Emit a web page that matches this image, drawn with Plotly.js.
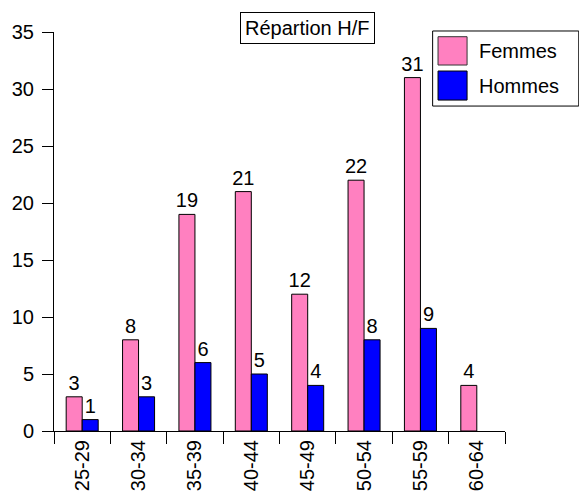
<!DOCTYPE html>
<html>
<head>
<meta charset="utf-8">
<script src="https://cdn.plot.ly/plotly-3.0.1.min.js"></script>
<style>html,body{margin:0;padding:0;background:#fff}</style>
</head>
<body>
<div id="chart" style="width:579px;height:502px"></div>
<script>
const categories = ["25-29","30-34","35-39","40-44","45-49","50-54","55-59","60-64"];
const femmes = [3, 8, 19, 21, 12, 22, 31, 4];
const hommes = [1, 3, 6, 5, 4, 8, 9, null];
const seriesNames = ["Femmes", "Hommes"];
const seriesColors = ["#FF80C0", "#0000FF"];
const chartTitle = "Répartion H/F";

const W = 579, H = 502;
const M = {l: 54, r: 74.4, t: 32, b: 71.3};
const plotW = W - M.l - M.r, plotH = H - M.t - M.b;
const px = x => (x - M.l) / plotW;
const py = y => (H - M.b - y) / plotH;
const FONT = "Liberation Sans, Arial, sans-serif";

function barTrace(name, vals, color) {
  return {
    type: "bar", name: name, x: categories, y: vals,
    marker: {color: color, line: {color: "#000", width: 1}},
    text: vals.map(v => v == null ? "" : String(v)),
    textposition: "outside", constraintext: "none", cliponaxis: false,
    textfont: {family: FONT, size: 20, color: "#000"},
    hoverinfo: "x+y", showlegend: false
  };
}

const data = [
  barTrace(seriesNames[0], femmes, seriesColors[0]),
  barTrace(seriesNames[1], hommes, seriesColors[1])
];

const shapes = [
  {type: "rect", xref: "paper", yref: "paper", x0: px(432.3), x1: px(578.3), y0: py(106), y1: py(31),
   line: {color: "#000", width: 1}, fillcolor: "#fff"},
  {type: "rect", xref: "paper", yref: "paper", x0: px(437.7), x1: px(466.7), y0: py(65), y1: py(36.7),
   line: {color: "#333", width: 1}, fillcolor: seriesColors[0]},
  {type: "rect", xref: "paper", yref: "paper", x0: px(437.7), x1: px(466.7), y0: py(100), y1: py(71),
   line: {color: "#000", width: 1}, fillcolor: seriesColors[1]}
];

const annotations = [
  {text: chartTitle, xref: "paper", yref: "paper", x: px(307.7), y: py(27.7),
   xanchor: "center", yanchor: "middle", showarrow: false,
   bordercolor: "#000", borderwidth: 1, borderpad: 4, bgcolor: "#fff",
   font: {family: FONT, size: 20, color: "#000"}},
  {text: seriesNames[0], xref: "paper", yref: "paper", x: px(477), y: py(51),
   xanchor: "left", yanchor: "middle", showarrow: false,
   font: {family: FONT, size: 20, color: "#000"}},
  {text: seriesNames[1], xref: "paper", yref: "paper", x: px(477), y: py(85.5),
   xanchor: "left", yanchor: "middle", showarrow: false,
   font: {family: FONT, size: 20, color: "#000"}}
];

const layout = {
  width: W, height: H,
  margin: M,
  paper_bgcolor: "#fff", plot_bgcolor: "#fff",
  font: {family: FONT, size: 20, color: "#000"},
  barmode: "group", bargap: 0.432, bargroupgap: 0,
  showlegend: false,
  xaxis: {
    type: "category", range: [-0.5, 7.5], fixedrange: true,
    showline: true, linecolor: "#000", linewidth: 1,
    ticks: "outside", tickson: "boundaries", ticklen: 12, tickcolor: "#000", tickwidth: 1,
    tickangle: -90, showgrid: false, zeroline: false,
    tickfont: {family: FONT, size: 20, color: "#000"}
  },
  yaxis: {
    range: [0, 35], dtick: 5, tick0: 0, fixedrange: true,
    showline: true, linecolor: "#000", linewidth: 1,
    ticks: "outside", ticklen: 11, tickcolor: "#000", tickwidth: 1,
    ticklabelstandoff: 4,
    showgrid: false, zeroline: false,
    tickfont: {family: FONT, size: 20, color: "#000"}
  },
  shapes: shapes,
  annotations: annotations
};

Plotly.newPlot("chart", data, layout, {displayModeBar: false, staticPlot: true});
</script>
</body>
</html>
